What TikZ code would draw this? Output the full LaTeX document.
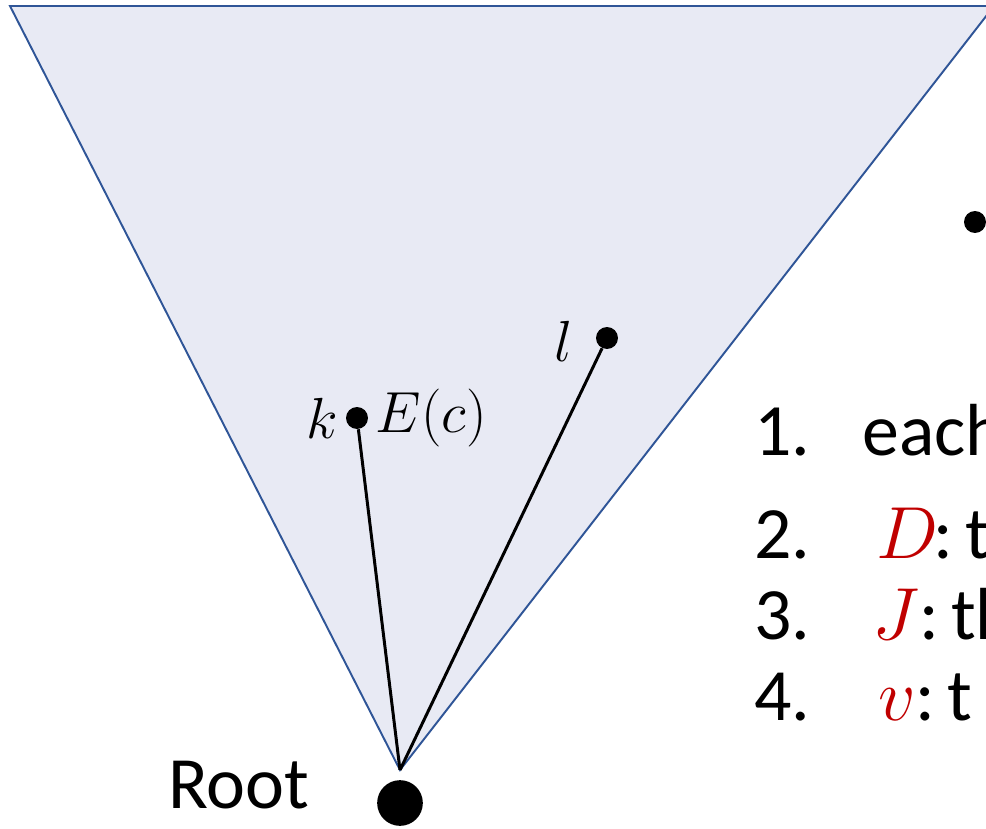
\RequirePackage{fix-cm}
\documentclass[tikz,border=0pt]{standalone}
\usepackage{fontspec}
\setmainfont{Carlito}
\usetikzlibrary{positioning}
\definecolor{treefill}{HTML}{E8EAF4}
\definecolor{treeedge}{HTML}{2F5597}
\definecolor{keyred}{HTML}{C00000}
\begin{document}
\begin{tikzpicture}[x=0.02cm, y=-0.02cm,
    dot/.style={circle, fill=black, inner sep=0pt, minimum size=12.5pt},
    mathlbl/.style={font=\fontsize{33}{38}\selectfont, inner sep=1pt},
    item/.style={font=\fontsize{42}{50}\selectfont, anchor=base west, inner sep=0pt}]
    \useasboundingbox (0,0) rectangle (986,828);
    \clip (0,0) rectangle (986,828);

    % 树 (三角形)
    \coordinate (A) at (400,770);
    \filldraw[fill=treefill, draw=treeedge, line width=1.1pt] (10,6) -- (994,6) -- (A) -- cycle;

    % 节点
    \node[dot] (k) at (357,418) {};
    \node[dot] (l) at (607,338) {};
    \node[dot] (x) at (975,222) {};
    \node[dot, minimum size=26pt] (root) at (400,803) {};

    % 标签
    \node[mathlbl, left=3pt of k] (klbl) {$k$};
    \node[mathlbl, right=3pt of k] (elbl) {$E(c)$};
    \node[mathlbl, left=12pt of l, yshift=-2pt] (llbl) {$l$};
    \node[font=\fontsize{42}{50}\selectfont, anchor=base west, inner sep=0pt] (rootlbl) at (168,808) {Root};

    % 路径
    \draw[line width=1.7pt] (A) -- (k);
    \draw[line width=1.7pt] (A) -- (l);

    % 列表
    \node[item] (n1) at (754,455) {1.};
    \node[item] (t1) at (862,455) {each};
    \node[item] (n2) at (754,558) {2.};
    \node[item] (t2) at (876,558) {\textcolor{keyred}{$D$}\hspace{-3pt}:\,t};
    \node[item] (n3) at (754,639) {3.};
    \node[item] (t3) at (872,639) {\textcolor{keyred}{$J$}:\,th};
    \node[item] (n4) at (754,720) {4.};
    \node[item] (t4) at (878,720) {\textcolor{keyred}{$v$}:\,t};
\end{tikzpicture}
\end{document}
